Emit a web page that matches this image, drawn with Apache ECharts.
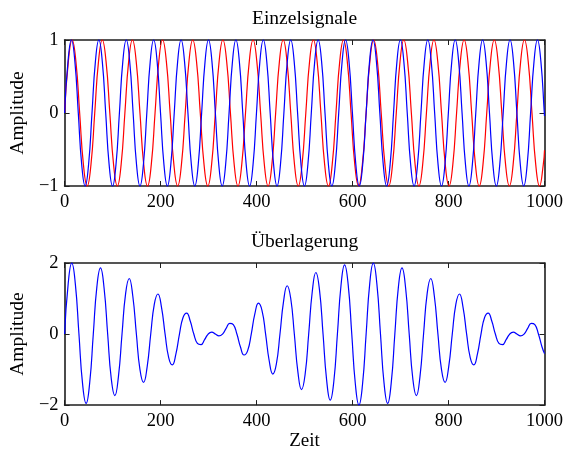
<!DOCTYPE html>
<html>
<head>
<meta charset="utf-8">
<script src="https://cdn.jsdelivr.net/npm/echarts@6/dist/echarts.min.js"></script>
<style>
  html, body { margin: 0; padding: 0; background: #fff; }
  #chart { width: 566px; height: 452px; }
</style>
</head>
<body>
<div id="chart"></div>
<script>
// Sample points of the two single signals, [Zeit, Amplitude], eight per period
const blueSignal = [
  [0,0],[7.14,0.707],[14.28,1],[21.42,0.707],[28.56,0],[35.70,-0.707],[42.84,-1],[49.98,-0.707],
  [57.12,0],[64.26,0.707],[71.40,1],[78.54,0.707],[85.68,0],[92.82,-0.707],[99.96,-1],[107.10,-0.707],
  [114.24,0],[121.38,0.707],[128.52,1],[135.66,0.707],[142.80,0],[149.94,-0.707],[157.08,-1],[164.22,-0.707],
  [171.36,0],[178.50,0.707],[185.64,1],[192.78,0.707],[199.92,0],[207.06,-0.707],[214.20,-1],[221.34,-0.707],
  [228.48,0],[235.62,0.707],[242.76,1],[249.90,0.707],[257.04,0],[264.18,-0.707],[271.32,-1],[278.46,-0.707],
  [285.60,0],[292.74,0.707],[299.88,1],[307.02,0.707],[314.16,0],[321.30,-0.707],[328.44,-1],[335.58,-0.707],
  [342.72,0],[349.86,0.707],[357.00,1],[364.14,0.707],[371.28,0],[378.42,-0.707],[385.56,-1],[392.70,-0.707],
  [399.84,0],[406.98,0.707],[414.12,1],[421.26,0.707],[428.40,0],[435.54,-0.707],[442.68,-1],[449.82,-0.707],
  [456.96,0],[464.10,0.707],[471.24,1],[478.38,0.707],[485.52,0],[492.66,-0.707],[499.80,-1],[506.94,-0.707],
  [514.08,0],[521.22,0.707],[528.36,1],[535.50,0.707],[542.64,0],[549.78,-0.707],[556.92,-1],[564.06,-0.707],
  [571.20,0],[578.34,0.707],[585.48,1],[592.62,0.707],[599.76,0],[606.90,-0.707],[614.04,-1],[621.18,-0.707],
  [628.32,0],[635.46,0.707],[642.60,1],[649.74,0.707],[656.88,0],[664.02,-0.707],[671.16,-1],[678.30,-0.707],
  [685.44,0],[692.58,0.707],[699.72,1],[706.86,0.707],[714.00,0],[721.14,-0.707],[728.28,-1],[735.42,-0.707],
  [742.56,0],[749.70,0.707],[756.84,1],[763.98,0.707],[771.12,0],[778.26,-0.707],[785.40,-1],[792.54,-0.707],
  [799.68,0],[806.82,0.707],[813.96,1],[821.10,0.707],[828.24,0],[835.38,-0.707],[842.52,-1],[849.66,-0.707],
  [856.80,0],[863.94,0.707],[871.08,1],[878.22,0.707],[885.36,0],[892.50,-0.707],[899.64,-1],[906.78,-0.707],
  [913.92,0],[921.06,0.707],[928.20,1],[935.34,0.707],[942.48,0],[949.62,-0.707],[956.76,-1],[963.90,-0.707],
  [971.04,0],[978.18,0.707],[985.32,1],[992.46,0.707],[999.60,0],[1000,-0.04]
];

const redSignal = [
  [0,0],[7.85,0.707],[15.71,1],[23.56,0.707],[31.42,0],[39.27,-0.707],[47.12,-1],[54.98,-0.707],
  [62.83,0],[70.69,0.707],[78.54,1],[86.39,0.707],[94.25,0],[102.10,-0.707],[109.96,-1],[117.81,-0.707],
  [125.66,0],[133.52,0.707],[141.37,1],[149.23,0.707],[157.08,0],[164.93,-0.707],[172.79,-1],[180.64,-0.707],
  [188.50,0],[196.35,0.707],[204.20,1],[212.06,0.707],[219.91,0],[227.77,-0.707],[235.62,-1],[243.47,-0.707],
  [251.33,0],[259.18,0.707],[267.04,1],[274.89,0.707],[282.74,0],[290.60,-0.707],[298.45,-1],[306.31,-0.707],
  [314.16,0],[322.01,0.707],[329.87,1],[337.72,0.707],[345.58,0],[353.43,-0.707],[361.28,-1],[369.14,-0.707],
  [376.99,0],[384.85,0.707],[392.70,1],[400.55,0.707],[408.41,0],[416.26,-0.707],[424.12,-1],[431.97,-0.707],
  [439.82,0],[447.68,0.707],[455.53,1],[463.39,0.707],[471.24,0],[479.09,-0.707],[486.95,-1],[494.80,-0.707],
  [502.65,0],[510.51,0.707],[518.36,1],[526.22,0.707],[534.07,0],[541.92,-0.707],[549.78,-1],[557.63,-0.707],
  [565.49,0],[573.34,0.707],[581.19,1],[589.05,0.707],[596.90,0],[604.76,-0.707],[612.61,-1],[620.46,-0.707],
  [628.32,0],[636.17,0.707],[644.03,1],[651.88,0.707],[659.73,0],[667.59,-0.707],[675.44,-1],[683.30,-0.707],
  [691.15,0],[699.00,0.707],[706.86,1],[714.71,0.707],[722.57,0],[730.42,-0.707],[738.27,-1],[746.13,-0.707],
  [753.98,0],[761.84,0.707],[769.69,1],[777.54,0.707],[785.40,0],[793.25,-0.707],[801.11,-1],[808.96,-0.707],
  [816.81,0],[824.67,0.707],[832.52,1],[840.38,0.707],[848.23,0],[856.08,-0.707],[863.94,-1],[871.79,-0.707],
  [879.65,0],[887.50,0.707],[895.35,1],[903.21,0.707],[911.06,0],[918.92,-0.707],[926.77,-1],[934.62,-0.707],
  [942.48,0],[950.33,0.707],[958.19,1],[966.04,0.707],[973.89,0],[981.75,-0.707],[989.60,-1],[997.46,-0.707],
  [1000,-0.51]
];

// Sample points of the superposition (beat signal)
const sumSignal = [
  [0,0],[7.48,1.413],[14.96,1.994],[22.44,1.405],[29.92,0],[37.40,-1.390],[44.88,-1.950],[52.36,-1.366],
  [59.84,0],[67.32,1.335],[74.80,1.862],[82.28,1.296],[89.76,0],[97.24,-1.250],[104.72,-1.732],[112.20,-1.197],
  [119.68,0],[127.16,1.138],[134.64,1.564],[142.12,1.072],[149.60,0],[157.08,-1.000],[164.56,-1.360],[172.04,-0.922],
  [179.52,0],[187.00,0.840],[194.48,1.127],[201.96,0.752],[209.44,0],[216.92,-0.661],[224.40,-0.868],[231.88,-0.566],
  [239.36,0],[246.84,0.467],[254.32,0.590],[261.80,0.366],[269.28,0],[276.76,-0.263],[284.24,-0.298],[291.72,-0.158],
  [299.20,0],[306.68,0.053],[314.16,0],[321.64,-0.053],[329.12,0],[336.60,0.158],[344.08,0.298],[351.56,0.263],
  [359.04,0],[366.52,-0.366],[374.00,-0.590],[381.48,-0.467],[388.96,0],[396.44,0.566],[403.92,0.868],[411.40,0.661],
  [418.88,0],[426.36,-0.752],[433.84,-1.127],[441.32,-0.840],[448.80,0],[456.28,0.922],[463.76,1.360],[471.24,1.000],
  [478.72,0],[486.20,-1.072],[493.68,-1.564],[501.16,-1.138],[508.64,0],[516.12,1.197],[523.60,1.732],[531.08,1.250],
  [538.56,0],[546.04,-1.296],[553.52,-1.862],[561.00,-1.335],[568.48,0],[575.96,1.366],[583.44,1.950],[590.92,1.390],
  [598.40,0],[605.88,-1.405],[613.36,-1.994],[620.84,-1.413],[628.32,0],[635.80,1.413],[643.28,1.994],[650.76,1.405],
  [658.24,0],[665.72,-1.390],[673.20,-1.950],[680.68,-1.366],[688.16,0],[695.64,1.335],[703.12,1.862],[710.60,1.296],
  [718.08,0],[725.56,-1.250],[733.04,-1.732],[740.52,-1.197],[748.00,0],[755.48,1.138],[762.96,1.564],[770.44,1.072],
  [777.92,0],[785.40,-1.000],[792.88,-1.360],[800.36,-0.922],[807.84,0],[815.32,0.840],[822.80,1.127],[830.28,0.752],
  [837.76,0],[845.24,-0.661],[852.72,-0.868],[860.20,-0.566],[867.68,0],[875.16,0.467],[882.64,0.590],[890.12,0.366],
  [897.60,0],[905.08,-0.263],[912.56,-0.298],[920.04,-0.158],[927.52,0],[935.00,0.053],[942.48,0],[949.96,-0.053],
  [957.44,0],[964.92,0.158],[972.40,0.298],[979.88,0.263],[987.36,0],[994.84,-0.366],[1000,-0.551]
];

const titles = ['Einzelsignale', '\u00dcberlagerung'];
const xLabel = 'Zeit';
const yLabel = 'Amplitude';
const xRange = { min: 0, max: 1000, interval: 200 };
const yRanges = [{ min: -1, max: 1, interval: 1 }, { min: -2, max: 2, interval: 2 }];

const FONT = '"Liberation Serif", "DejaVu Serif", serif';
const INK = '#000';
const FRAME = '#1e1e1e';

function minus(v) { return String(v).replace('-', '\u2212'); }

function xAxisPair(gridIndex, title, name) {
  const common = {
    type: 'value', gridIndex: gridIndex,
    min: xRange.min, max: xRange.max, interval: xRange.interval,
    splitLine: { show: false },
    axisLine: { show: true, onZero: false, lineStyle: { color: FRAME, width: 1.6 } },
    axisTick: { show: true, inside: true, length: 5, lineStyle: { color: FRAME, width: 1 } }
  };
  return [
    Object.assign({}, common, {
      position: 'bottom',
      axisLabel: { show: true, margin: 7, color: INK, fontFamily: FONT, fontSize: 18.5, formatter: minus },
      name: name || '', nameLocation: 'middle', nameGap: 24,
      nameTextStyle: { color: INK, fontFamily: FONT, fontSize: 19 }
    }),
    Object.assign({}, common, {
      position: 'top',
      axisLabel: { show: false },
      name: title, nameLocation: 'middle', nameGap: 11,
      nameTextStyle: { color: INK, fontFamily: FONT, fontSize: 19.5 }
    })
  ];
}

function yAxisPair(gridIndex, range) {
  const common = {
    type: 'value', gridIndex: gridIndex,
    min: range.min, max: range.max, interval: range.interval,
    splitLine: { show: false },
    axisLine: { show: true, onZero: false, lineStyle: { color: FRAME, width: 1.6 } },
    axisTick: { show: true, inside: true, length: 5, lineStyle: { color: FRAME, width: 1 } }
  };
  return [
    Object.assign({}, common, {
      position: 'left',
      axisLabel: { show: true, margin: 6, color: INK, fontFamily: FONT, fontSize: 18.5, formatter: minus },
      name: yLabel, nameLocation: 'middle', nameGap: 27,
      nameTextStyle: { color: INK, fontFamily: FONT, fontSize: 19.5 }
    }),
    Object.assign({}, common, {
      position: 'right',
      axisLabel: { show: false }
    })
  ];
}

function lineSeries(data, color, xi, yi) {
  return {
    type: 'line', data: data, xAxisIndex: xi, yAxisIndex: yi,
    smooth: true, showSymbol: false, clip: false,
    lineStyle: { color: color, width: 1.2 },
    emphasis: { disabled: true }, silent: true
  };
}

const chart = echarts.init(document.getElementById('chart'), null, { renderer: 'canvas' });
chart.setOption({
  animation: false,
  backgroundColor: '#fff',
  grid: [
    { left: 61, top: 40, width: 485, height: 146 },
    { left: 61, top: 263, width: 485, height: 145 }
  ],
  xAxis: [].concat(xAxisPair(0, titles[0], ''), xAxisPair(1, titles[1], xLabel)),
  yAxis: [].concat(yAxisPair(0, yRanges[0]), yAxisPair(1, yRanges[1])),
  series: [
    lineSeries(redSignal, '#ff0000', 0, 0),
    lineSeries(blueSignal, '#0000ff', 0, 0),
    lineSeries(sumSignal, '#0000ff', 2, 2)
  ]
});
</script>
</body>
</html>
